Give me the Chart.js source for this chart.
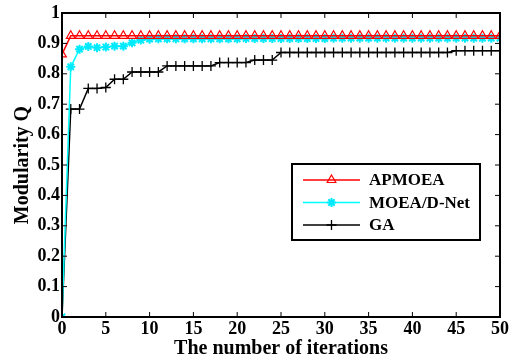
<!DOCTYPE html>
<html lang="en">
<head>
<meta charset="UTF-8">
<title>Modularity Q</title>
<script src="https://cdn.jsdelivr.net/npm/chart.js"></script>
<style>
  html, body { margin: 0; padding: 0; background: #fff; }
  #wrap { width: 512px; height: 361px; }
</style>
</head>
<body>
<div id="wrap"><canvas id="myChart" width="512" height="361"></canvas></div>
<script>
    // iterations 0..50
    const iteracoes = [];
    for (let i = 0; i <= 50; i++) iteracoes.push(i);

    const apmoea = [0.864,
        0.925, 0.925, 0.925, 0.925, 0.925, 0.925, 0.925, 0.925, 0.925, 0.925,
        0.925, 0.925, 0.925, 0.925, 0.925, 0.925, 0.925, 0.925, 0.925, 0.925,
        0.925, 0.925, 0.925, 0.925, 0.925, 0.925, 0.925, 0.925, 0.925, 0.925,
        0.925, 0.925, 0.925, 0.925, 0.925, 0.925, 0.925, 0.925, 0.925, 0.925,
        0.925, 0.925, 0.925, 0.925, 0.925, 0.925, 0.925, 0.925, 0.925, 0.925];

    const moead = [0,
        0.823, 0.881, 0.890, 0.886, 0.888, 0.891, 0.891, 0.902, 0.911, 0.914,
        0.915, 0.915, 0.915, 0.915, 0.915, 0.915, 0.915, 0.915, 0.915, 0.915,
        0.916, 0.916, 0.916, 0.916, 0.916, 0.916, 0.916, 0.916, 0.916, 0.916,
        0.917, 0.917, 0.917, 0.917, 0.917, 0.917, 0.917, 0.917, 0.917, 0.917,
        0.917, 0.917, 0.917, 0.917, 0.917, 0.917, 0.917, 0.917, 0.917, 0.917];

    const ga = [0,
        0.684, 0.684, 0.752, 0.752, 0.755, 0.782, 0.782, 0.806, 0.806, 0.806,
        0.806, 0.826, 0.826, 0.826, 0.826, 0.826, 0.826, 0.837, 0.837, 0.837,
        0.837, 0.845, 0.845, 0.845, 0.870, 0.870, 0.870, 0.870, 0.870, 0.870,
        0.870, 0.870, 0.870, 0.870, 0.870, 0.870, 0.870, 0.870, 0.870, 0.870,
        0.870, 0.870, 0.870, 0.870, 0.876, 0.876, 0.876, 0.876, 0.876, 0.876];

    const nomesSeries = ['APMOEA', 'MOEA/D-Net', 'GA'];
    const xTicks = ['0', '5', '10', '15', '20', '25', '30', '35', '40', '45', '50'];
    const yTicks = ['0', '0.1', '0.2', '0.3', '0.4', '0.5', '0.6', '0.7', '0.8', '0.9', '1'];

    const fonte = 'Liberation Serif';

    function pontos(valores) {
        return valores.map((v, i) => ({ x: iteracoes[i], y: v }));
    }

    // box around plot + inward ticks on all four sides
    const moldura = {
        id: 'moldura',
        afterDraw(chart) {
            const ctx = chart.ctx;
            const a = chart.chartArea;
            const sx = chart.scales.x, sy = chart.scales.y;
            ctx.save();
            ctx.strokeStyle = '#000';
            ctx.lineWidth = 2;
            ctx.strokeRect(a.left, a.top, a.right - a.left, a.bottom - a.top);
            ctx.lineWidth = 1;
            ctx.beginPath();
            sx.ticks.forEach(t => {
                const px = sx.getPixelForValue(t.value);
                ctx.moveTo(px, a.bottom); ctx.lineTo(px, a.bottom - 5);
                ctx.moveTo(px, a.top); ctx.lineTo(px, a.top + 5);
            });
            sy.ticks.forEach(t => {
                const py = sy.getPixelForValue(t.value);
                ctx.moveTo(a.left, py); ctx.lineTo(a.left + 5, py);
                ctx.moveTo(a.right, py); ctx.lineTo(a.right - 5, py);
            });
            ctx.stroke();
            ctx.restore();
        }
    };

    // legend box inside the plot
    const legenda = {
        id: 'legenda',
        afterDraw(chart) {
            const ctx = chart.ctx;
            const x0 = 292, y0 = 164, w = 188, h = 76;
            ctx.save();
            ctx.fillStyle = '#fff';
            ctx.fillRect(x0, y0, w, h);
            ctx.strokeStyle = '#000';
            ctx.lineWidth = 2;
            ctx.strokeRect(x0, y0, w, h);
            chart.data.datasets.forEach((ds, i) => {
                const y = y0 + 16 + i * 22.5;
                ctx.strokeStyle = ds.borderColor;
                ctx.fillStyle = ds.pointBackgroundColor || ds.borderColor;
                ctx.lineWidth = 1.5;
                ctx.beginPath();
                ctx.moveTo(x0 + 11, y); ctx.lineTo(x0 + 68, y);
                ctx.stroke();
                ctx.strokeStyle = ds.pointBorderColor;
                ctx.lineWidth = ds.pointBorderWidth;
                Chart.helpers.drawPoint(ctx, {
                    pointStyle: ds.pointStyle,
                    radius: ds.pointRadius,
                    borderWidth: ds.pointBorderWidth
                }, x0 + 39.5, y);
                ctx.fillStyle = '#000';
                ctx.font = 'bold 17px "' + fonte + '"';
                ctx.textBaseline = 'middle';
                ctx.fillText(ds.label, x0 + 77, y + 1);
            });
            ctx.restore();
        }
    };

    new Chart(document.getElementById('myChart'), {
        type: 'line',
        data: {
            datasets: [{
                label: nomesSeries[0],
                data: pontos(apmoea),
                borderColor: '#ff0000',
                backgroundColor: '#ffffff',
                borderWidth: 1.5,
                pointStyle: 'triangle',
                pointRadius: 5,
                pointBorderWidth: 1.2,
                pointBackgroundColor: 'rgba(0,0,0,0)',
                pointBorderColor: '#ff0000'
            }, {
                label: nomesSeries[1],
                data: pontos(moead),
                borderColor: '#00ffff',
                backgroundColor: '#00ffff',
                borderWidth: 1.5,
                pointStyle: 'star',
                pointRadius: 4.5,
                pointBorderWidth: 2,
                pointBackgroundColor: '#00ffff',
                pointBorderColor: '#00eaff'
            }, {
                label: nomesSeries[2],
                data: pontos(ga),
                borderColor: '#000000',
                backgroundColor: '#000000',
                borderWidth: 1.5,
                pointStyle: 'cross',
                pointRadius: 5,
                pointBorderWidth: 1.3,
                pointBackgroundColor: '#000000',
                pointBorderColor: '#000000'
            }]
        },
        options: {
            responsive: false,
            animation: false,
            layout: { padding: { top: 13, right: 12, left: 0, bottom: 0 } },
            plugins: {
                legend: { display: false },
                tooltip: { enabled: false }
            },
            elements: { line: { tension: 0 } },
            scales: {
                x: {
                    type: 'linear',
                    min: 0, max: 50,
                    grid: { display: false, drawTicks: false },
                    border: { display: false },
                    ticks: {
                        stepSize: 5,
                        padding: 2,
                        maxRotation: 0,
                        color: '#000',
                        font: { family: fonte, size: 18, weight: 'bold' },
                        callback: (v) => xTicks[Math.round(v / 5)]
                    },
                    title: {
                        display: true,
                        text: 'The number of iterations',
                        color: '#000',
                        padding: { top: 0, bottom: 0 },
                        font: { family: fonte, size: 20, weight: 'bold' }
                    },
                    afterFit: (s) => { s.height = 44; }
                },
                y: {
                    min: 0, max: 1,
                    grid: { display: false, drawTicks: false },
                    border: { display: false },
                    ticks: {
                        stepSize: 0.1,
                        padding: 2,
                        color: '#000',
                        font: { family: fonte, size: 18, weight: 'bold' },
                        callback: (v) => yTicks[Math.round(v * 10)]
                    },
                    title: {
                        display: true,
                        text: 'Modularity Q',
                        color: '#000',
                        padding: { top: 11, bottom: 0 },
                        font: { family: fonte, size: 20, weight: 'bold' }
                    },
                    afterFit: (s) => { s.width = 62; }
                }
            }
        },
        plugins: [moldura, legenda]
    });
</script>
</body>
</html>
